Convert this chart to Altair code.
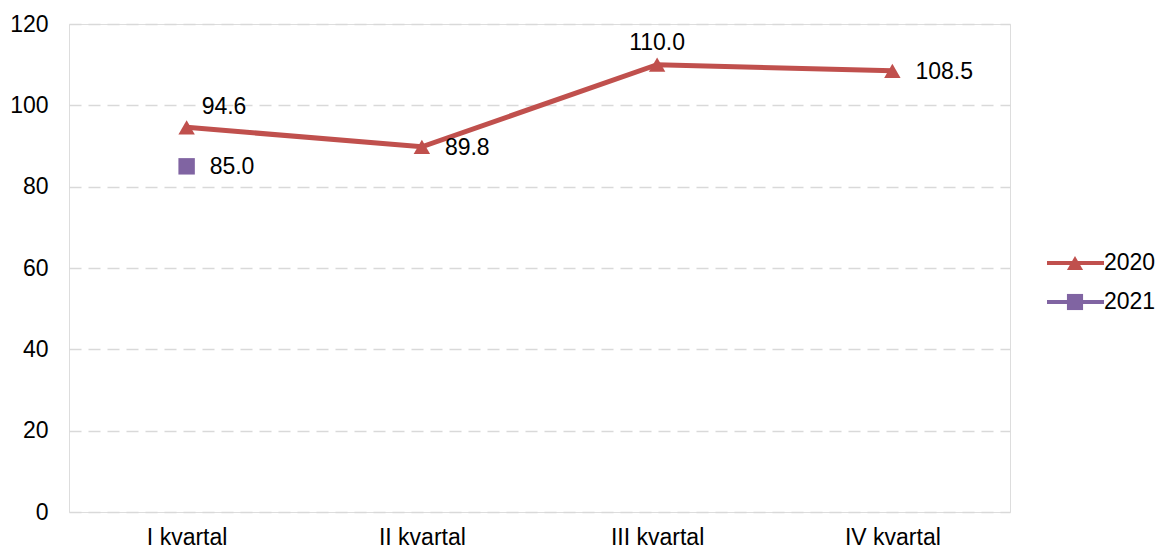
import altair as alt
import pandas as pd

quarters = ["I kvartal", "II kvartal", "III kvartal", "IV kvartal"]
series_names = ["2020", "2021"]
values_2020 = [94.6, 89.8, 110.0, 108.5]
values_2021 = [85.0, None, None, None]
y_ticks = [0, 20, 40, 60, 80, 100, 120]

rows = []
for q, v in zip(quarters, values_2020):
    rows.append({"quarter": q, "series": "2020", "value": v})
for q, v in zip(quarters, values_2021):
    if v is not None:
        rows.append({"quarter": q, "series": "2021", "value": v})
df = pd.DataFrame(rows)
df["label"] = df["value"].map(lambda v: f"{v:.1f}")

RED = "#C0504D"
PURPLE = "#8064A2"
FONT = "Liberation Sans"
FS = 23

x_enc = alt.X("quarter:N", sort=quarters, title=None,
              scale=alt.Scale(paddingInner=0, paddingOuter=0),
              axis=alt.Axis(labelAngle=0, ticks=False, domain=False, grid=False,
                            labelFontSize=FS, labelFont=FONT, labelColor="#000",
                            labelPadding=14))
y_enc = alt.Y("value:Q", title=None,
              scale=alt.Scale(domain=[0, 120], nice=False),
              axis=alt.Axis(values=y_ticks, ticks=False, domain=False,
                            grid=True, gridColor="#d9d9d9", gridWidth=1.5,
                            gridDash=[12, 7],
                            labelFontSize=FS, labelFont=FONT, labelColor="#000",
                            labelPadding=21))

color_scale = alt.Scale(domain=series_names, range=[RED, PURPLE])
shape_scale = alt.Scale(domain=series_names, range=["triangle-up", "square"])

base = alt.Chart(df)

line = base.transform_filter(alt.datum.series == "2020").mark_line(
    strokeWidth=5, color=RED).encode(x=x_enc, y=y_enc)

points = base.mark_point(filled=True, opacity=1, size=270).encode(
    x=x_enc, y=y_enc,
    color=alt.Color("series:N", scale=color_scale, legend=None),
    shape=alt.Shape("series:N", scale=shape_scale, legend=None),
)

txt_kw = dict(font=FONT, fontSize=FS, color="#000")
lab_above_right = base.transform_filter(
    (alt.datum.series == "2020") & (alt.datum.quarter == quarters[0])
).mark_text(align="left", baseline="middle", dx=15, dy=-20, **txt_kw).encode(
    x=x_enc, y=y_enc, text="label:N")
lab_above = base.transform_filter(
    (alt.datum.series == "2020") & (alt.datum.quarter == quarters[2])
).mark_text(align="center", baseline="middle", dx=0, dy=-22, **txt_kw).encode(
    x=x_enc, y=y_enc, text="label:N")
lab_right = base.transform_filter(
    ((alt.datum.series == "2020") & ((alt.datum.quarter == quarters[1]) | (alt.datum.quarter == quarters[3])))
    | (alt.datum.series == "2021")
).mark_text(align="left", baseline="middle", dx=23, dy=1, **txt_kw).encode(
    x=x_enc, y=y_enc, text="label:N")

# custom legend (line + marker), placed to the right of the plot area
leg_df = pd.DataFrame({"series": series_names, "i": [0, 1]})
leg = alt.Chart(leg_df)
leg_y = alt.Y("i:Q", scale=alt.Scale(domain=[0, 1], range=[239, 278]), axis=None)
leg_line = leg.mark_rule(strokeWidth=4).encode(
    x=alt.value(978), x2=alt.value(1035), y=leg_y,
    color=alt.Color("series:N", scale=color_scale, legend=None))
leg_pt = leg.mark_point(filled=True, opacity=1, size=260).encode(
    x=alt.value(1006), y=leg_y,
    color=alt.Color("series:N", scale=color_scale, legend=None),
    shape=alt.Shape("series:N", scale=shape_scale, legend=None))
leg_txt = leg.mark_text(align="left", baseline="middle", **txt_kw).encode(
    x=alt.value(1035), y=leg_y, text="series:N")

legend_layer = alt.layer(leg_line, leg_pt, leg_txt)

main = alt.layer(line, points, lab_above_right, lab_above, lab_right)

chart = alt.layer(main, legend_layer).resolve_scale(y="independent").properties(
    width=941, height=488,
    autosize=alt.AutoSizeParams(type="none"),
    padding={"left": 61, "top": 16, "right": 146, "bottom": 39},
).configure_view(stroke="#d9d9d9", strokeWidth=2).configure(background="white")

chart.save("out.html", embed_options={"renderer": "svg", "actions": False})
